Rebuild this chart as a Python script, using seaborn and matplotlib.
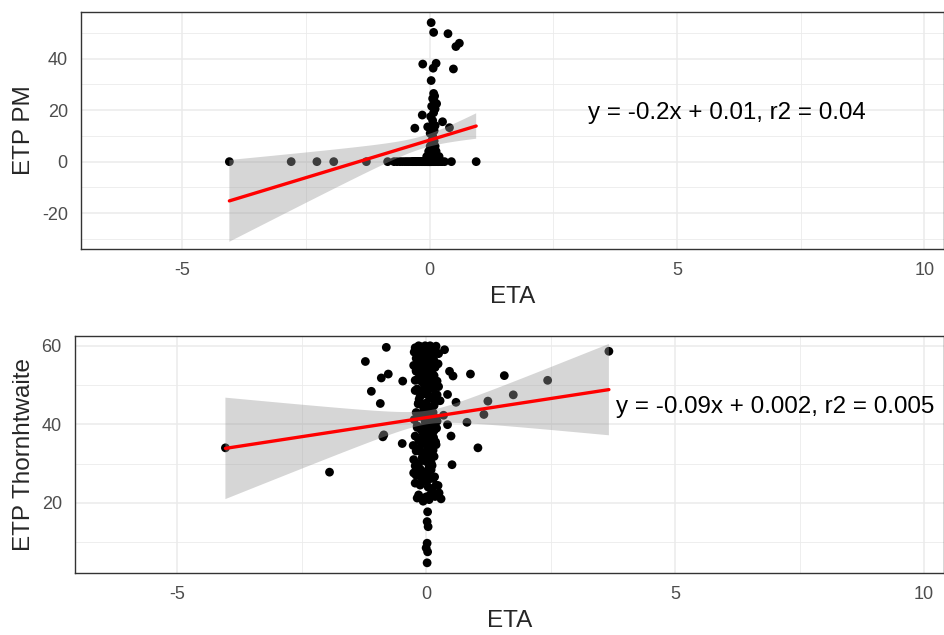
import numpy as np
import pandas as pd
import seaborn as sns
import matplotlib.pyplot as plt
from matplotlib.ticker import MultipleLocator

# ETA vs ETP PM (top panel)
pm_eta = [-4.05, -2.80, -2.28, -1.94, -1.28, -0.85, -0.72, -0.66, -0.60, -0.55,
          -0.50, -0.46, -0.42, -0.38, -0.34, -0.30, -0.27, -0.24, -0.21, -0.18,
          -0.15, -0.12, -0.10, -0.08, -0.06, -0.04, -0.02, 0.00, 0.00, 0.00,
          0.01, 0.02, 0.04, 0.06, 0.08, 0.10, 0.12, 0.15, 0.18, 0.21,
          0.25, 0.30, 0.44, 0.94,
          -0.35, -0.32, -0.29, -0.26, -0.23, -0.20, -0.17, -0.14, -0.11, -0.09,
          -0.07, -0.05, -0.04, -0.03, -0.02, -0.01, 0.00, 0.01, 0.02, 0.03,
          -0.06, -0.02, 0.04, 0.07, 0.11, 0.15, 0.19,
          -0.02, 0.03, 0.08, 0.13,
          0.01, 0.06, 0.11,
          0.04, 0.09,
          0.06, 0.01, 0.09,
          -0.30, 0.40, -0.04, 0.11, 0.26, 0.06, 0.02, -0.15, 0.08, 0.11,
          0.04, 0.14, 0.09, 0.06, 0.10, 0.08,
          0.03, 0.48, 0.07, -0.14, 0.13, 0.53, 0.60, 0.37, 0.08, 0.03]
pm_etp = [0] * 44 + [0] * 20 + \
         [2, 2, 2, 2, 2, 2, 2,
          4, 4, 4, 4,
          6, 6, 6,
          8, 8,
          10, 11, 12,
          13, 13.2, 13.5, 14, 15.5, 16, 17.5, 18.1, 19, 20.5,
          21.5, 22.5, 23.5, 24.5, 25.5, 26.5,
          31.5, 36.0, 36.3, 37.9, 38.2, 44.7, 46.0, 49.7, 50.2, 54.0]

# ETA vs ETP Thornthwaite (bottom panel)
th_eta = [-0.22, -0.15, -0.08, -0.02, 0.03, 0.08, 0.13, 0.18, 0.25, -0.18, -0.05, 0.05, 0.15,
          -0.25, -0.20, -0.12, -0.05, 0.00, 0.06, 0.12, 0.18, 0.22, -0.10, 0.02, 0.10,
          -0.18, -0.10, -0.03, 0.03, 0.09, 0.15, 0.22, -0.15, 0.00, 0.12, 0.28,
          -0.20, -0.12, -0.05, 0.02, 0.08, 0.14, 0.20, -0.08, 0.05, 0.10,
          -0.22, -0.15, -0.06, 0.00, 0.07, 0.13, 0.19, -0.10, 0.04, 0.10,
          -0.25, -0.15, -0.08, 0.00, 0.06, 0.12, -0.20, -0.02,
          -0.22, -0.12, -0.04, 0.04, 0.12, 0.20, -0.15, 0.00, 0.08, 0.26,
          -0.12, 0.00, 0.10, 0.20, -0.05, 0.16,
          -0.20, -0.08, 0.02, 0.10, 0.24, -0.15, 0.06, 0.16, -0.02,
          -0.22, -0.06, 0.04, 0.14, 0.25, -0.12, 0.07, 0.19, -0.02,
          -0.16, -0.06, 0.05, 0.16, -0.24, -0.02, 0.12, 0.22,
          -0.18, -0.04, 0.06, 0.16, -0.26, -0.10, 0.02, 0.13,
          -0.20, -0.06, 0.05, 0.16, -0.12, 0.03, 0.10, -0.22,
          -0.25, -0.10, 0.02, 0.14, -0.18, -0.06, 0.06, 0.18, 0.30,
          -0.24, -0.17, -0.11, -0.06, -0.01, 0.04, 0.09, 0.14, -0.20, -0.13,
          -0.07, -0.02, 0.03, 0.08, -0.22, -0.14, -0.08, 0.00, 0.06, 0.12,
          -0.18, -0.10, -0.03, 0.03, 0.09, 0.15, 0.21, -0.14, -0.05, 0.02,
          0.08, 0.14, 0.20, -0.16, -0.06, 0.04, 0.10, 0.17, 0.24, 0.12,
          0.03, 0.02, 0.04, 0.02, 0.00, 0.03, 0.02,
          -4.03, -1.94, -1.22, -0.80, -0.90, -0.76, -1.10, -0.92, -0.87, -0.85, -0.48, -0.47,
          0.37, 0.47, 0.54, 0.89, 0.43, 0.60, 0.35, 0.43, 0.50, 1.04, 0.52, 0.82,
          1.16, 1.24, 1.57, 1.75, 2.44, 3.67]
th_etp = [59.5, 60, 59, 60, 59.5, 60, 58.5, 59, 58, 57, 58, 57.5, 56.5,
          55, 53.5, 55.5, 54, 52, 55, 53, 54.5, 51, 51, 50.5, 52,
          49, 48, 49.5, 48.5, 47, 49, 47.5, 45.5, 45, 44.5, 46,
          43, 42, 43.5, 42.5, 41, 43, 41.5, 39, 39.5, 38.5,
          37, 36, 37.5, 36.5, 35, 37, 35.5, 33, 33.5, 32.5,
          31, 30, 31.5, 30.5, 29, 29.5, 27, 27.5,
          25, 24.5, 25.5, 24, 23, 24.5, 22, 21.5, 22, 22.5,
          59.8, 59.2, 59.6, 59.9, 58.2, 57.8,
          56.8, 56.2, 56.6, 55.8, 55.4, 53.2, 53.6, 52.4, 54.8,
          51.2, 50.6, 50.2, 50.8, 49.6, 47.2, 46.6, 45.8, 47.8,
          45.2, 44.6, 44.2, 44.8, 41.2, 40.6, 40.2, 40.8,
          39.6, 38.2, 37.8, 38.4, 34.6, 35.2, 34.4, 34.2,
          33.2, 32.6, 32.2, 31.8, 28.6, 28.2, 30.2, 29.4,
          27.6, 26.4, 26.8, 26.2, 21.2, 20.4, 20.8, 21.6, 21.0,
          58.4, 57.6, 58.8, 57.2, 56.4, 58.0, 57.0, 56.0, 53.8, 52.6,
          54.4, 53.0, 52.2, 51.6, 48.6, 46.4, 47.6, 45.4, 44.0, 46.8,
          39.2, 38.6, 36.2, 35.8, 37.4, 36.6, 39.0, 33.8, 31.6, 32.8,
          30.4, 33.4, 34.8, 28.8, 27.2, 25.8, 28.4, 26.6, 24.4, 23.6,
          17.7, 15.2, 13.9, 9.7, 8.5, 7.5, 4.7,
          34, 27.8, 56, 59.6, 51.8, 52.8, 48.4, 45.3, 36.8, 37.3, 35.1, 51,
          59, 53.5, 52.3, 52.8, 47.6, 45.6, 42.3, 39.9, 37, 34, 29.7, 40.5,
          42.5, 45.9, 52.4, 47.5, 51.2, 58.6]

x_ticks = [-5, 0, 5, 10]

sns.set_style("white")
plt.rcParams['font.family'] = ['Liberation Sans', 'DejaVu Sans']
plt.rcParams['axes.unicode_minus'] = False


def lm_band(x, y, grid):
    # 95% confidence band of the linear fit, like geom_smooth(method = "lm")
    x = np.asarray(x, float)
    y = np.asarray(y, float)
    n = len(x)
    slope, icpt = np.polyfit(x, y, 1)
    resid = y - (icpt + slope * x)
    s = np.sqrt(resid @ resid / (n - 2))
    sxx = ((x - x.mean()) ** 2).sum()
    se = s * np.sqrt(1 / n + (grid - x.mean()) ** 2 / sxx)
    fit = icpt + slope * grid
    return fit - 1.97 * se, fit + 1.97 * se


def draw_panel(ax, x, y, ylabel, yticks, ylim, label, label_pos):
    df = pd.DataFrame({'ETA': x, 'ETP': y})
    sns.scatterplot(data=df, x='ETA', y='ETP', ax=ax, color='black', s=40,
                    edgecolor='none', zorder=2)
    grid = np.linspace(df['ETA'].min(), df['ETA'].max(), 100)
    lo, hi = lm_band(df['ETA'], df['ETP'], grid)
    ax.fill_between(grid, lo, hi, facecolor='#999999', alpha=0.4,
                    edgecolor='none', zorder=3)
    sns.regplot(data=df, x='ETA', y='ETP', ax=ax, scatter=False, ci=None,
                line_kws={'color': 'red', 'lw': 2.4, 'zorder': 4})

    ax.set_xlim(-7.05, 10.4)
    ax.set_ylim(*ylim)
    ax.set_xticks(x_ticks)
    ax.set_yticks(yticks)
    ax.xaxis.set_minor_locator(MultipleLocator(2.5))
    ax.yaxis.set_minor_locator(MultipleLocator(10))
    ax.grid(which='major', color='#EBEBEB', lw=1.1, zorder=0)
    ax.grid(which='minor', color='#EBEBEB', lw=0.6, zorder=0)
    ax.set_axisbelow(True)
    ax.tick_params(which='major', length=3.5, width=1, color='#333333',
                   labelsize=13, labelcolor='#4D4D4D', direction='out', pad=6)
    ax.tick_params(which='minor', length=0)
    for sp in ax.spines.values():
        sp.set_color('#333333')
        sp.set_linewidth(1.0)
    ax.set_xlabel('ETA', fontsize=17.5, labelpad=5)
    ax.set_ylabel(ylabel, fontsize=17.5, labelpad=5)
    ax.text(label_pos[0], label_pos[1], label, fontsize=17.4, color='black',
            ha='center', va='center', zorder=5)


fig = plt.figure(figsize=(9.45, 6.35), dpi=100)
ax1 = fig.add_axes([0.0857, 0.608, 0.9133, 0.373])
ax2 = fig.add_axes([0.0794, 0.0976, 0.9196, 0.3733])

draw_panel(ax1, pm_eta, pm_etp, 'ETP PM', [-20, 0, 20, 40], (-33.9, 58.1),
           'y = -0.2x + 0.01, r2 = 0.04', (6.0, 19))
draw_panel(ax2, th_eta, th_etp, 'ETP Thornhtwaite', [20, 40, 60], (2.1, 62.5),
           'y = -0.09x + 0.002, r2 = 0.005', (7.0, 44.5))

fig.savefig('out.png', dpi=100)
